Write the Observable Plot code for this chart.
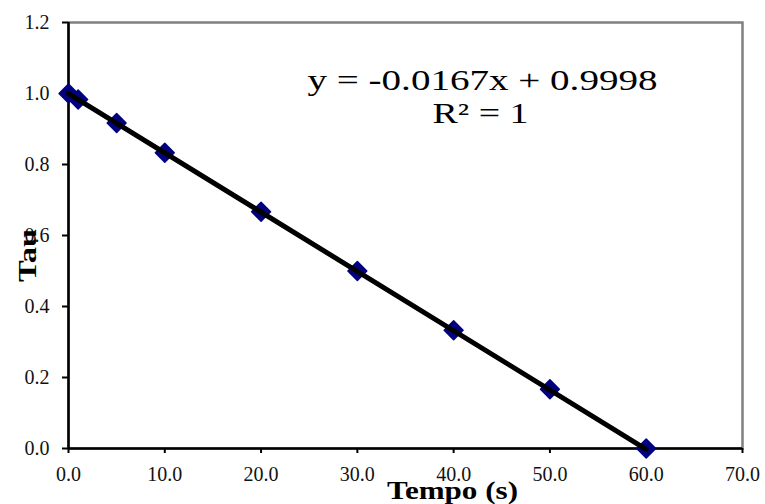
<!DOCTYPE html>
<html>
<head>
<meta charset="utf-8">
<script src="https://cdn.jsdelivr.net/npm/d3@7"></script>
<script src="https://cdn.jsdelivr.net/npm/@observablehq/plot@0.6"></script>
<style>
  html, body { margin: 0; padding: 0; background: #fff; }
</style>
</head>
<body>
<div id="chart"></div>
<script>
// Data
const tempo = [0, 1, 5, 10, 20, 30, 40, 50, 60];
const tau = [1.0, 0.983, 0.917, 0.833, 0.667, 0.5, 0.333, 0.167, 0.0];
// Linear trendline endpoints (y = -0.0167x + 0.9998)
const trendTempo = [0, 60];
const trendTau = [0.9998, -0.0022];
const xTicks = [0, 10, 20, 30, 40, 50, 60, 70];
const yTicks = [0, 0.2, 0.4, 0.6, 0.8, 1.0, 1.2];
const equationText = "y = -0.0167x + 0.9998";
const r2Text = "R² = 1";
const xLabel = "Tempo (s)";
const yLabel = "Tau";

const points = tempo.map((t, i) => ({t, v: tau[i]}));
const trend = trendTempo.map((t, i) => ({t, v: trendTau[i]}));

const chart = Plot.plot({
  width: 765,
  height: 504,
  marginLeft: 68,
  marginRight: 23,
  marginTop: 22,
  marginBottom: 56,
  style: {fontFamily: "'Liberation Serif', serif", fontSize: "20px", color: "#000", background: "#fff"},
  x: {domain: [0, 70]},
  y: {domain: [0, 1.2]},
  marks: [
    Plot.frame({stroke: "#808080", strokeWidth: 2.5}),
    Plot.axisY({ticks: yTicks, tickFormat: d => d.toFixed(1), tickSize: 6, tickPadding: 13, label: null, stroke: "#000", strokeWidth: 2, fill: "#111"}),
    Plot.axisX({ticks: xTicks, tickFormat: d => d.toFixed(1), tickSize: 5, tickPadding: 13, label: null, stroke: "#000", strokeWidth: 2, fill: "#111"}),
    Plot.ruleX([0], {stroke: "#000", strokeWidth: 2.5}),
    Plot.ruleY([0], {stroke: "#000", strokeWidth: 2.5}),
    Plot.dot(points, {x: "t", y: "v", symbol: "diamond2", r: 8.5, fill: "#000080", stroke: "#000080", strokeWidth: 1.5, strokeLinejoin: "round"}),
    Plot.line(trend, {x: "t", y: "v", stroke: "#000", strokeWidth: 5}),
    Plot.text([equationText], {frameAnchor: "top-left", dx: 414, dy: 58, textAnchor: "middle", lineAnchor: "middle", fontSize: 29, fill: "#000"}),
    Plot.text([r2Text], {frameAnchor: "top-left", dx: 412, dy: 91, textAnchor: "middle", lineAnchor: "middle", fontSize: 29, fill: "#000"}),
    Plot.text([xLabel], {frameAnchor: "bottom", dx: 47, dy: 42, textAnchor: "middle", lineAnchor: "middle", fontSize: 26, fontWeight: "bold", fill: "#000"}),
    Plot.text([yLabel], {frameAnchor: "left", dx: -41, dy: 20, rotate: -90, textAnchor: "middle", lineAnchor: "middle", fontSize: 26, fontWeight: "bold", fill: "#000"})
  ]
});

// Stretch texts horizontally to match the reference's wide rendering
const stretch = {[equationText]: 350, [r2Text]: 96, [xLabel]: 131, [yLabel]: 53};
d3.select(chart).selectAll("text").each(function() {
  const w = stretch[this.textContent];
  if (w) {
    this.setAttribute("textLength", w);
    this.setAttribute("lengthAdjust", "spacingAndGlyphs");
  }
});

document.getElementById("chart").appendChild(chart);
</script>
</body>
</html>
